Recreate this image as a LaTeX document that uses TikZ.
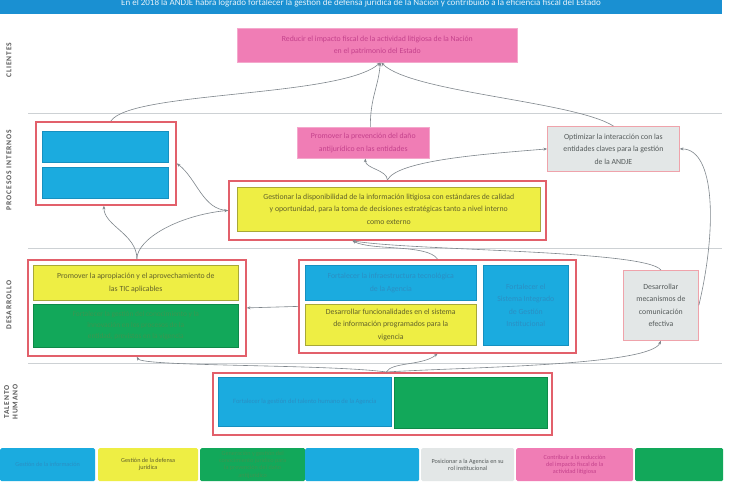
\documentclass[tikz,border=0pt]{standalone}
\usepackage{fontspec}
\setmainfont{Carlito}
\newfontfamily\lblfont[LetterSpace=12]{Carlito}
\usetikzlibrary{arrows.meta}
\definecolor{cyanF}{HTML}{1BABDF}
\definecolor{cyanD}{HTML}{1690C0}
\definecolor{cyanT}{HTML}{2A8FC4}
\definecolor{yelF}{HTML}{EEEE44}
\definecolor{yelD}{HTML}{A8A838}
\definecolor{yelT}{HTML}{62622A}
\definecolor{grnF}{HTML}{12A85A}
\definecolor{grnD}{HTML}{0E8A48}
\definecolor{grnT}{HTML}{3A9650}
\definecolor{pnkF}{HTML}{F07DB5}
\definecolor{pnkD}{HTML}{F4A8CC}
\definecolor{pnkT}{HTML}{C4418C}
\definecolor{gryF}{HTML}{E3E7E7}
\definecolor{gryD}{HTML}{EFA3AB}
\definecolor{gryT}{HTML}{555B5B}
\definecolor{redF}{HTML}{E2606B}
\definecolor{bannerC}{HTML}{1A90D2}
\definecolor{bannerT}{HTML}{E6F2FA}
\definecolor{sepC}{HTML}{CDD1D4}
\definecolor{lblC}{HTML}{5A5A5A}
\definecolor{lineC}{HTML}{7F868C}
\begin{document}
\begin{tikzpicture}[x=1pt,y=-1pt,
 frame/.style={rectangle, draw=redF, line width=1.8pt, fill=white, anchor=north west, inner sep=0pt},
 box/.style={rectangle, anchor=north west, inner sep=1pt, align=center, font=\fontsize{7.8}{12.5}\selectfont},
 ybox/.style={box, fill=yelF, draw=yelD, line width=0.6pt, text=yelT},
 bbox/.style={box, fill=cyanF, draw=cyanD, line width=0.6pt, text=cyanT},
 gbox/.style={box, fill=grnF, draw=grnD, line width=0.6pt, text=grnT},
 pbox/.style={box, fill=pnkF, draw=pnkD, line width=0.6pt, text=pnkT},
 wbox/.style={box, fill=gryF, draw=gryD, line width=0.8pt, text=gryT},
 band/.style={rectangle, rounded corners=1.5pt, anchor=north west, inner sep=1pt, align=center, minimum height=33pt, font=\fontsize{6.2}{7.2}\selectfont},
 lane/.style={rotate=90, text=lblC, font=\lblfont\bfseries\fontsize{7.5}{8.5}\selectfont, align=center},
 conn/.style={draw=lineC, line width=0.6pt, -{Stealth[length=3.6pt,width=3pt]}},
 sepline/.style={draw=sepC, line width=0.7pt}]
\useasboundingbox (0,0) rectangle (729,500);
\fill[white] (0,0) rectangle (729,500);
% banner
\fill[bannerC] (0,0) rectangle (722,14);
\node[font=\fontsize{9}{10}\selectfont, text=bannerT] (bt) at (361,3.5) {En el 2018 la ANDJE habrá logrado fortalecer la gestión de defensa jurídica de la Nación y contribuido a la eficiencia fiscal del Estado};
% lane separators
\draw[sepline] (28,113) -- (722,113);
\draw[sepline] (28,248) -- (722,248);
\draw[sepline] (28,363) -- (722,363);
% lane labels
\node[lane] (l1) at (9,60) {CLIENTES};
\node[lane] (l2) at (9,170) {PROCESOS INTERNOS};
\node[lane] (l3) at (9,305) {DESARROLLO};
\node[lane] (l4) at (11,402) {TALENTO\\HUMANO};
% clientes
\node[pbox, minimum width=280pt, minimum height=34pt] (tp) at (237,28) {Reducir el impacto fiscal de la actividad litigiosa de la Nación\\en el patrimonio del Estado};
% procesos internos
\node[frame, minimum width=140pt, minimum height=83pt] (fPL) at (35,121) {};
\node[bbox, minimum width=126pt, minimum height=31pt] (pl1) at (42,131) {};
\node[bbox, minimum width=126pt, minimum height=31pt] (pl2) at (42,167) {};
\node[pbox, minimum width=132pt, minimum height=31pt] (mp) at (297,127) {Promover la prevención del daño\\antijurídico en las entidades};
\node[wbox, minimum width=132pt, minimum height=45pt] (opt) at (547,126) {Optimizar la interacción con las\\entidades claves para la gestión\\de la ANDJE};
\node[frame, minimum width=317pt, minimum height=59pt] (fG) at (228,180) {};
\node[ybox, minimum width=303pt, minimum height=44pt] (gest) at (237,187) {Gestionar la disponibilidad de la información litigiosa con estándares de calidad\\y oportunidad, para la toma de decisiones estratégicas tanto a nivel interno\\como externo};
% desarrollo
\node[frame, minimum width=218pt, minimum height=96pt] (fDL) at (27,259) {};
\node[ybox, minimum width=205pt, minimum height=35pt] (yDL) at (33,265) {Promover la apropiación y el aprovechamiento de\\las TIC aplicables};
\node[gbox, minimum width=205pt, minimum height=43pt, font=\fontsize{7.4}{11}\selectfont] (gDL) at (33,304) {Fortalecer la gestión del conocimiento y la\\innovación en los procesos de la\\entidad, previstos en la vigencia};
\node[frame, minimum width=277pt, minimum height=93pt] (fDM) at (298,259) {};
\node[bbox, minimum width=171pt, minimum height=35pt] (bDM) at (305,265) {Fortalecer la infraestructura tecnológica\\de la Agencia};
\node[ybox, minimum width=171pt, minimum height=41pt] (yDM) at (305,304) {Desarrollar funcionalidades en el sistema\\de información programados para la\\vigencia};
\node[bbox, minimum width=85pt, minimum height=80pt] (bDR) at (483,265) {Fortalecer el\\Sistema Integrado\\de Gestión\\Institucional};
\node[wbox, minimum width=75pt, minimum height=70pt] (dm) at (623,270) {Desarrollar\\mecanismos de\\comunicación\\efectiva};
% talento humano
\node[frame, minimum width=339pt, minimum height=62pt] (fT) at (212,372) {};
\node[bbox, minimum width=173pt, minimum height=49pt, font=\fontsize{6.5}{8}\selectfont] (bT) at (218,377) {Fortalecer la gestión del talento humano de la Agencia};
\node[gbox, minimum width=153pt, minimum height=51pt] (gT) at (394,377) {};
% bottom band
\node[band, fill=cyanF, text=cyanT, minimum width=95pt] (s1) at (0,448) {Gestión de la información};
\node[band, fill=yelF, text=yelT, minimum width=100pt] (s2) at (98,448) {Gestión de la defensa\\jurídica};
\node[band, fill=grnF, text=grnT, minimum width=105pt] (s3) at (200,448) {Generación y gestión del\\conocimiento jurídico para\\la prevención del daño\\antijurídico};
\node[band, fill=cyanF, minimum width=114pt] (s4) at (305,448) {};
\node[band, fill=gryF, text=gryT, minimum width=93pt] (s5) at (421,448) {Posicionar a la Agencia en su\\rol institucional};
\node[band, fill=pnkF, text=pnkT, minimum width=117pt] (s6) at (516,448) {Contribuir a la reducción\\del impacto fiscal de la\\actividad litigiosa};
\node[band, fill=grnF, minimum width=88pt] (s7) at (635,448) {};
% connectors
\draw[conn] ([xshift=5pt]fPL.north) .. controls +(20,-30) and +(-40,35) .. ([xshift=3pt]tp.south);
\draw[conn] ([xshift=7pt]mp.north) .. controls +(0,-30) and +(-2,25) .. ([xshift=3pt]tp.south);
\draw[conn] (opt.north) .. controls +(-40,-25) and +(30,30) .. ([xshift=4pt]tp.south);
\draw[conn] (fG.west) .. controls +(-25,0) and +(20,15) .. (fPL.east);
\draw[conn] (fDL.north) .. controls +(0,-20) and +(-50,5) .. (fG.west);
\draw[conn] (fDL.north) .. controls +(0,-25) and +(0,20) .. ([xshift=-2pt]fPL.south);
\draw[conn] (fG.north) .. controls +(0,-10) and +(0,10) .. ([xshift=2pt]mp.south);
\draw[conn] (fG.north) .. controls +(10,-20) and +(-60,5) .. (opt.west);
\draw[conn] (dm.east) .. controls +(18,-75) and +(36,0) .. (opt.east);
\draw[conn] (dm.north) .. controls +(-15,-20) and +(60,10) .. ([xshift=-35pt]fG.south);
\draw[conn] (fDM.north) .. controls +(-10,-15) and +(20,10) .. ([xshift=-35pt]fG.south);
\draw[conn] (fDM.west) -- (fDL.east);
\draw[conn] ([xshift=4pt]fT.north) .. controls +(-60,-8) and +(5,10) .. (fDL.south);
\draw[conn] ([xshift=4pt]fT.north) .. controls +(5,-10) and +(-15,12) .. (fDM.south);
\draw[conn] ([xshift=4pt]fT.north) .. controls +(80,-5) and +(-10,25) .. (dm.south);
\end{tikzpicture}
\end{document}
